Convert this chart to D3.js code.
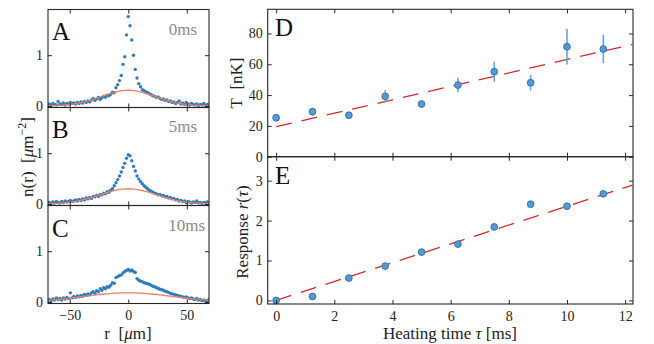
<!DOCTYPE html>
<html><head><meta charset="utf-8">
<script src="https://cdn.jsdelivr.net/npm/d3@7"></script>
<style>
html,body{margin:0;padding:0;background:#fff;}
svg{display:block;}
</style></head><body>
<svg id="c" width="654" height="344" font-family="'Liberation Serif', 'DejaVu Serif', serif"></svg>
<script>
// ---------- DATA ----------
const rGrid = [-69,-67.5,-66,-64.5,-63,-61.5,-60,-58.5,-57,-55.5,-54,-52.5,-51,-49.5,-48,-46.5,-45,-43.5,-42,-40.5,-39,-37.5,-36,-34.5,-33,-31.5,-30,-28.5,-27,-25.5,-24,-22.5,-21,-19.5,-18,-16.5,-15,-13.5,-12,-10.5,-9,-7.5,-6,-4.5,-3,-1.5,
  0,
  1.5,3,4.5,6,7.5,9,10.5,12,13.5,15,16.5,18,19.5,21,22.5,24,25.5,27,28.5,30,31.5,33,34.5,36,37.5,39,40.5,42,43.5,45,46.5,48,49.5,51,52.5,54,55.5,57,58.5,60,61.5,63,64.5,66,67.5,69];

const densityA = [0.02,0.04,0.01,0.05,0.03,0.02,0.09,0.04,0.03,0.06,0.02,0.05,0.04,0.07,0.05,0.06,0.04,0.07,0.05,0.08,0.06,0.09,0.07,0.10,0.08,0.12,0.15,0.11,0.14,0.17,0.13,0.16,0.19,0.17,0.21,0.20,0.23,0.27,0.26,0.36,0.42,0.50,0.60,0.82,0.97,1.40,
  1.76,
  1.58,1.30,1.00,0.72,0.55,0.44,0.38,0.32,0.30,0.28,0.26,0.24,0.22,0.20,0.19,0.17,0.18,0.15,0.13,0.14,0.11,0.12,0.09,0.10,0.07,0.08,0.05,0.07,0.10,0.04,0.06,0.03,0.07,0.04,0.02,0.05,0.03,0.02,0.04,0.01,0.03,0.02,0.05,0.01,0.03,0.02];

const densityB = [0.02,0.03,0.01,0.04,0.02,0.05,0.03,0.02,0.05,0.03,0.06,0.04,0.05,0.07,0.05,0.06,0.08,0.06,0.09,0.07,0.10,0.08,0.12,0.10,0.13,0.11,0.15,0.14,0.17,0.15,0.19,0.18,0.21,0.20,0.24,0.23,0.27,0.30,0.36,0.42,0.48,0.55,0.63,0.72,0.80,0.90,
  0.97,
  0.95,0.85,0.74,0.65,0.55,0.49,0.44,0.40,0.36,0.33,0.30,0.27,0.25,0.23,0.21,0.20,0.18,0.19,0.16,0.17,0.14,0.15,0.12,0.13,0.10,0.11,0.08,0.09,0.06,0.07,0.05,0.06,0.03,0.05,0.04,0.02,0.04,0.03,0.06,0.02,0.03,0.01,0.03,0.02,0.04,0.02];

const densityC = [0.03,0.05,0.02,0.06,0.04,0.08,0.05,0.07,0.04,0.08,0.06,0.09,0.07,0.18,0.08,0.11,0.09,0.12,0.10,0.13,0.11,0.15,0.13,0.16,0.14,0.18,0.20,0.17,0.22,0.20,0.26,0.23,0.28,0.26,0.30,0.29,0.33,0.38,0.37,0.48,0.50,0.52,0.53,0.57,0.60,0.62,
  0.64,
  0.61,0.63,0.60,0.58,0.46,0.43,0.41,0.40,0.38,0.37,0.36,0.35,0.33,0.31,0.30,0.28,0.27,0.25,0.24,0.23,0.21,0.20,0.19,0.17,0.16,0.15,0.14,0.13,0.12,0.11,0.10,0.09,0.10,0.08,0.07,0.08,0.06,0.05,0.07,0.04,0.05,0.03,0.04,0.02,0.03,0.05];

// thermal fit curves, sampled
const fitR = [-70,-65,-60,-55,-50,-45,-40,-35,-30,-25,-20,-15,-10,-5,0,5,10,15,20,25,30,35,40,45,50,55,60,65,70];
const fitA = [0.003,0.006,0.010,0.018,0.029,0.046,0.068,0.097,0.132,0.171,0.212,0.250,0.280,0.303,0.310,0.303,0.280,0.250,0.212,0.171,0.132,0.097,0.068,0.046,0.029,0.018,0.010,0.006,0.003];
const fitB = [0.004,0.008,0.013,0.022,0.034,0.052,0.075,0.104,0.137,0.175,0.212,0.246,0.275,0.294,0.300,0.294,0.275,0.246,0.212,0.175,0.137,0.104,0.075,0.052,0.034,0.022,0.013,0.008,0.004];
const fitC = [0.033,0.042,0.052,0.063,0.076,0.089,0.103,0.118,0.132,0.145,0.157,0.166,0.174,0.178,0.180,0.178,0.174,0.166,0.157,0.145,0.132,0.118,0.103,0.089,0.076,0.063,0.052,0.042,0.033];

const panelLetters = ["A","B","C"];
const panelTimes = ["0ms","5ms","10ms"];
const leftXTicks = [-50, 0, 50];
const leftYTicks = [0, 1];

// heating data
const heatTau = [0, 1.25, 2.5, 3.75, 5, 6.25, 7.5, 8.75, 10, 11.25];
const tempT = [25.3, 29.2, 26.9, 39.2, 34.2, 46.5, 55.2, 48.0, 71.4, 69.9];
const tempErr = [1.5, 2.5, 1.5, 4.0, 2.0, 4.7, 6.5, 5.0, 11.5, 9.3];
const response = [0, 0.10, 0.56, 0.86, 1.21, 1.41, 1.84, 2.41, 2.36, 2.67];
const fitTau = [0, 12.25];
const fitTemp = [19.5, 72.9];
const fitResp = [0, 2.89];
const tauTicks = [0, 2, 4, 6, 8, 10, 12];
const tempTicks = [0, 20, 40, 60, 80];
const respTicks = [0, 1, 2, 3];

// ---------- DRAW ----------
const FONT = "'Liberation Serif', 'DejaVu Serif', serif";
const svg = d3.select("#c");
const frameCol = "#262626";
const fmt = d => (d < 0 ? "\u2212" + Math.abs(d) : String(d));

function axes(g, x, y, xt, yt, showXLabels) {
  const [x0, x1] = x.range();
  const [y0, y1] = y.range(); // y0 bottom, y1 top
  const bottom = g.append("g").attr("transform", `translate(0,${y0})`)
    .call(d3.axisBottom(x).tickValues(xt).tickSize(-4).tickPadding(7).tickFormat(showXLabels ? fmt : ""));
  const top = g.append("g").attr("transform", `translate(0,${y1})`)
    .call(d3.axisTop(x).tickValues(xt).tickSize(-4).tickFormat(""));
  const left = g.append("g").attr("transform", `translate(${x0},0)`)
    .call(d3.axisLeft(y).tickValues(yt).tickSize(-4).tickPadding(5).tickFormat(fmt));
  const right = g.append("g").attr("transform", `translate(${x1},0)`)
    .call(d3.axisRight(y).tickValues(yt).tickSize(-4).tickFormat(""));
  [bottom, top, left, right].forEach(a => {
    a.attr("font-family", FONT);
    a.select(".domain").remove();
    a.selectAll("line").attr("stroke", frameCol).attr("stroke-width", 1);
    a.selectAll("text").attr("font-size", 14).attr("fill", "#222");
  });
  g.append("rect").attr("x", x0).attr("y", y1).attr("width", x1 - x0).attr("height", y0 - y1)
    .attr("fill", "none").attr("stroke", frameCol).attr("stroke-width", 1.1);
}

// left panels
const lx = d3.scaleLinear().domain([-68.6, 69]).range([48, 209]);
const panelTop = [9.5, 107.5, 205.5];
const panelH = 98;
const densities = [densityA, densityB, densityC];
const fits = [fitA, fitB, fitC];
const letterPos = [[52, 40], [52, 138], [52, 237]];
const timePos = [[197, 35], [197, 131.5], [205, 230.5]];

densities.forEach((dens, i) => {
  const g = svg.append("g");
  const y = d3.scaleLinear().domain([-0.03, 1.9]).range([panelTop[i] + panelH, panelTop[i]]);
  const clipId = "clip" + i;
  svg.append("clipPath").attr("id", clipId).append("rect")
    .attr("x", 48).attr("y", panelTop[i]).attr("width", 161).attr("height", panelH);
  const pg = g.append("g").attr("clip-path", `url(#${clipId})`);
  pg.selectAll("circle").data(dens).join("circle")
    .attr("cx", (d, j) => lx(rGrid[j])).attr("cy", d => y(d)).attr("r", 1.7)
    .attr("fill", "#2f7dbf");
  pg.append("path").datum(fits[i])
    .attr("d", d3.line().x((d, j) => lx(fitR[j])).y(d => y(d)).curve(d3.curveMonotoneX))
    .attr("fill", "none").attr("stroke", "#ef7d60").attr("stroke-width", 1.3);
  axes(g, lx, y, leftXTicks, leftYTicks, i === 2);
  g.append("text").attr("x", letterPos[i][0]).attr("y", letterPos[i][1])
    .attr("font-size", 25).attr("fill", "#111").text(panelLetters[i]);
  g.append("text").attr("x", timePos[i][0]).attr("y", timePos[i][1]).attr("text-anchor", "end")
    .attr("font-size", 17).attr("fill", "#8a8a8a").text(panelTimes[i]);
});

// left labels
const nl = svg.append("text").attr("transform", "translate(33,157) rotate(-90)")
  .attr("text-anchor", "middle").attr("font-size", 17).attr("fill", "#222");
nl.append("tspan").text("n(r)\u00a0\u00a0[");
nl.append("tspan").attr("font-style", "italic").text("\u03bc");
nl.append("tspan").text("m");
nl.append("tspan").attr("font-size", 12).attr("dy", -7).text("\u22122");
nl.append("tspan").attr("dy", 7).text("]");

const rl = svg.append("text").attr("x", 128).attr("y", 339).attr("text-anchor", "middle").attr("font-size", 17).attr("fill", "#222");
rl.append("tspan").text("r\u00a0\u00a0[");
rl.append("tspan").attr("font-style", "italic").text("\u03bc");
rl.append("tspan").text("m]");

// right panels
const rx = d3.scaleLinear().domain([-0.29, 12.27]).range([267.7, 633]);
const yT = d3.scaleLinear().domain([0, 95.7]).range([156.7, 9.3]);
const yR = d3.scaleLinear().domain([-0.09, 3.6]).range([304, 156.7]);

const gD = svg.append("g");
const gE = svg.append("g");
svg.append("clipPath").attr("id", "clipD").append("rect").attr("x", 267.7).attr("y", 9.3).attr("width", 365.3).attr("height", 147.4);
svg.append("clipPath").attr("id", "clipE").append("rect").attr("x", 267.7).attr("y", 156.7).attr("width", 365.3).attr("height", 147.3);

const dashCol = "#d42a2a";
gD.append("path").datum(fitTemp).attr("clip-path", "url(#clipD)")
  .attr("d", d3.line().x((d, j) => rx(fitTau[j])).y(d => yT(d)))
  .attr("fill", "none").attr("stroke", dashCol).attr("stroke-width", 1.3).attr("stroke-dasharray", "16,10");
gD.selectAll("line.err").data(tempT).join("line").attr("class", "err")
  .attr("x1", (d, j) => rx(heatTau[j])).attr("x2", (d, j) => rx(heatTau[j]))
  .attr("y1", (d, j) => yT(d - tempErr[j])).attr("y2", (d, j) => yT(d + tempErr[j]))
  .attr("stroke", "#5ea6dc").attr("stroke-width", 1.6);
gD.selectAll("circle").data(tempT).join("circle")
  .attr("cx", (d, j) => rx(heatTau[j])).attr("cy", d => yT(d)).attr("r", 3.4)
  .attr("fill", "#5598d2").attr("stroke", "#2c6fad").attr("stroke-width", 0.9);
axes(gD, rx, yT, tauTicks, tempTicks, false);

gE.append("path").datum(fitResp).attr("clip-path", "url(#clipE)")
  .attr("d", d3.line().x((d, j) => rx(fitTau[j])).y(d => yR(d)))
  .attr("fill", "none").attr("stroke", dashCol).attr("stroke-width", 1.3).attr("stroke-dasharray", "16,10");
gE.selectAll("circle").data(response).join("circle")
  .attr("cx", (d, j) => rx(heatTau[j])).attr("cy", d => yR(d)).attr("r", 3.4)
  .attr("fill", "#5598d2").attr("stroke", "#2c6fad").attr("stroke-width", 0.9);
axes(gE, rx, yR, tauTicks, respTicks, true);

gD.append("text").attr("x", 275).attr("y", 36).attr("font-size", 25).attr("fill", "#111").text("D");
gE.append("text").attr("x", 275).attr("y", 183.5).attr("font-size", 25).attr("fill", "#111").text("E");

svg.append("text").attr("transform", "translate(242,83) rotate(-90)")
  .attr("text-anchor", "middle").attr("font-size", 17).attr("fill", "#222").text("T\u00a0\u00a0[nK]");
const resp = svg.append("text").attr("transform", "translate(248,232) rotate(-90)")
  .attr("text-anchor", "middle").attr("font-size", 17).attr("fill", "#222");
resp.append("tspan").text("Response ");
resp.append("tspan").attr("font-style", "italic").text("r");
resp.append("tspan").text("(");
resp.append("tspan").attr("font-style", "italic").text("\u03c4");
resp.append("tspan").text(")");

const hl = svg.append("text").attr("x", 450).attr("y", 339).attr("text-anchor", "middle").attr("font-size", 17).attr("fill", "#222");
hl.append("tspan").text("Heating time ");
hl.append("tspan").attr("font-style", "italic").text("\u03c4");
hl.append("tspan").text(" [ms]");

svg.selectAll("text").attr("font-family", FONT);
</script>
</body></html>
